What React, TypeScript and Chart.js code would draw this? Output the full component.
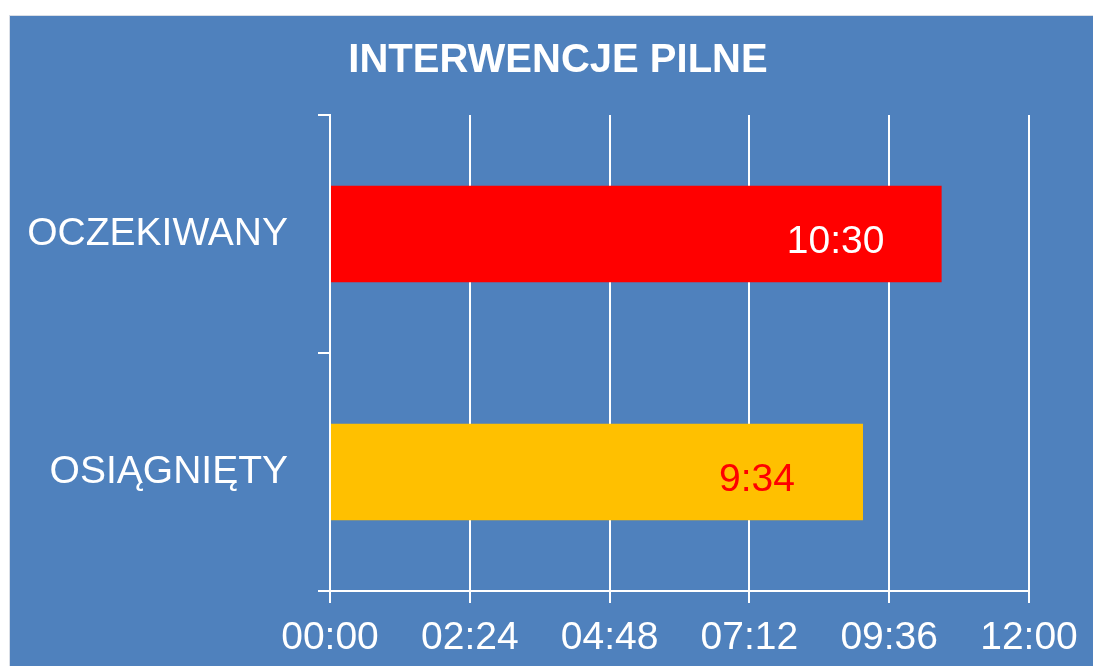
import React, { useEffect, useRef } from "react";
import { Chart, registerables } from "chart.js";

Chart.register(...registerables);

const categories = ["OCZEKIWANY", "OSIĄGNIĘTY"];
// bar lengths in seconds
const barSeconds = [630, 549];
const valueLabels = ["10:30", "9:34"];
const barColors = ["#FF0000", "#FFC000"];
const labelColors = ["#FFFFFF", "#FF0000"];
const tickLabels = ["00:00", "02:24", "04:48", "07:12", "09:36", "12:00"];
const tickStep = 144;
const axisMax = 720;
const title = "INTERWENCJE PILNE";

const FONT = "'Liberation Sans', Arial, sans-serif";

const valueLabelPlugin = {
  id: "valueLabels",
  afterDatasetsDraw(chart: any) {
    const ctx = chart.ctx;
    const meta = chart.getDatasetMeta(0);
    ctx.save();
    ctx.font = `39px ${FONT}`;
    ctx.textAlign = "center";
    ctx.textBaseline = "middle";
    meta.data.forEach((bar: any, i: number) => {
      ctx.fillStyle = labelColors[i];
      ctx.fillText(valueLabels[i], bar.x - 106, bar.y + 8);
    });
    ctx.restore();
  },
};

const titlePlugin = {
  id: "centerTitle",
  afterDraw(chart: any) {
    const ctx = chart.ctx;
    ctx.save();
    ctx.font = `bold 40px ${FONT}`;
    ctx.fillStyle = "#FFFFFF";
    ctx.textAlign = "center";
    ctx.textBaseline = "alphabetic";
    ctx.fillText(title, chart.width / 2, 56);
    ctx.restore();
  },
};

export default function App() {
  const ref = useRef<HTMLCanvasElement>(null);
  useEffect(() => {
    if (!ref.current) return;
    const chart = new Chart(ref.current, {
      type: "bar",
      data: {
        labels: categories,
        datasets: [
          {
            data: barSeconds,
            backgroundColor: barColors,
            borderWidth: 0,
            barPercentage: 0.405,
            categoryPercentage: 1,
          },
        ],
      },
      options: {
        indexAxis: "y",
        responsive: false,
        animation: false,
        layout: { padding: { left: 0, right: 77, top: 99, bottom: 0 } },
        plugins: {
          legend: { display: false },
          tooltip: { enabled: false },
          title: { display: false },
        },
        scales: {
          x: {
            type: "linear",
            min: 0,
            max: axisMax,
            afterFit: (s: any) => {
              s.height = 75;
            },
            ticks: {
              stepSize: tickStep,
              color: "#FFFFFF",
              font: { family: FONT, size: 39 },
              padding: 12,
              maxRotation: 0,
              autoSkip: false,
              callback: (_v: any, i: number) => tickLabels[i],
            },
            grid: {
              color: "#FFFFFF",
              lineWidth: 2,
              tickLength: 12,
              drawOnChartArea: true,
              drawTicks: true,
            },
            border: { display: true, color: "#FFFFFF", width: 2 },
          },
          y: {
            afterFit: (s: any) => {
              s.width = 320;
            },
            ticks: {
              color: "#FFFFFF",
              font: { family: FONT, size: 39 },
              padding: 30,
            },
            grid: {
              color: "#FFFFFF",
              lineWidth: 2,
              tickLength: 12,
              drawOnChartArea: false,
              drawTicks: true,
              offset: true,
            },
            border: { display: true, color: "#FFFFFF", width: 2 },
          },
        },
      },
      plugins: [valueLabelPlugin, titlePlugin],
    });
    return () => chart.destroy();
  }, []);

  return (
    <div
      style={{
        position: "fixed",
        left: 0,
        top: 0,
        width: 1093,
        height: 666,
        overflow: "hidden",
        background: "#FFFFFF",
      }}
    >
      <div
        style={{
          position: "absolute",
          left: 9,
          top: 15,
          width: 1097,
          height: 651,
          borderTop: "1px solid #D9DEE6",
          borderLeft: "1px solid #D9DEE6",
          boxSizing: "border-box",
          background: "#4F81BD",
        }}
      >
        <canvas
          ref={ref}
          width={1096}
          height={650}
          style={{ display: "block", width: 1096, height: 650 }}
        />
      </div>
    </div>
  );
}
